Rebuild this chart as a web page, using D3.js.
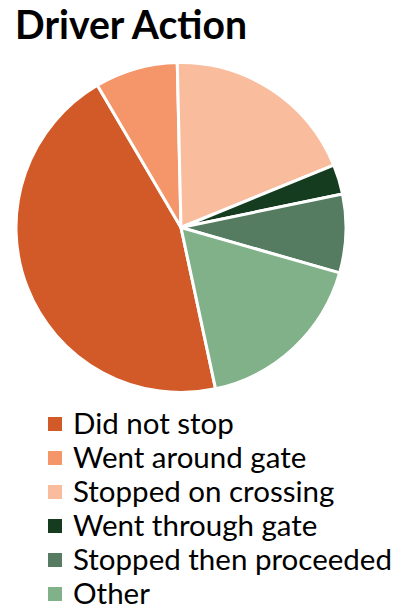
<!DOCTYPE html>
<html>
<head>
<meta charset="utf-8">
<script src="https://cdn.jsdelivr.net/npm/d3@7"></script>
<style>
  body { margin: 0; background: #fff; }
  text { font-family: "Lato", "Open Sans", sans-serif; }
</style>
</head>
<body>
<svg id="chart" width="399" height="609"></svg>
<script>
// Data (percent of cases)
const categories = ["Did not stop", "Went around gate", "Stopped on crossing", "Went through gate", "Stopped then proceeded", "Other"];
const values = [44.9, 8.1, 19.2, 2.9, 7.7, 17.2];
const colors = ["#D15A28", "#F4956A", "#F9BD9E", "#163C1F", "#557C60", "#80B188"];

const svg = d3.select("#chart");
const cx = 181, cy = 227.5, radius = 165;

// Title
const title = svg.append("text")
  .attr("x", 15)
  .attr("y", 39)
  .style("font-size", "36px")
  .style("font-weight", "bold")
  .attr("fill", "#000")
  .text("Driver Action");
const tw = title.node().getComputedTextLength();
title.style("font-size", (36 * 232 / tw) + "px");

// Pie, first slice starts at ~168 degrees, clockwise
const startA = 167.9 * Math.PI / 180;
const pie = d3.pie().sort(null).startAngle(startA).endAngle(startA + 2 * Math.PI);
const arc = d3.arc().innerRadius(0).outerRadius(radius);
const color = d3.scaleOrdinal().domain(categories).range(colors);

svg.append("g")
  .attr("transform", `translate(${cx},${cy})`)
  .selectAll("path")
  .data(pie(values))
  .join("path")
  .attr("d", arc)
  .attr("fill", (d, i) => color(categories[i]))
  .attr("stroke", "#fff")
  .attr("stroke-width", 3)
  .attr("stroke-linejoin", "round");

// Legend
const legendY = d3.scalePoint().domain(categories).range([424, 594]);
const legend = svg.append("g").selectAll("g")
  .data(categories)
  .join("g")
  .attr("transform", d => `translate(48,${legendY(d)})`);

legend.append("rect")
  .attr("x", 0)
  .attr("y", -7)
  .attr("width", 14)
  .attr("height", 14)
  .attr("fill", d => color(d));

const labels = legend.append("text")
  .attr("x", 25)
  .attr("dy", "0.35em")
  .style("font-size", "26px")
  .attr("fill", "#000")
  .text(d => d);

// fit the longest label to the width seen in the picture
const lw = labels.filter(d => d === "Stopped then proceeded").node().getComputedTextLength();
labels.style("font-size", (26 * 319 / lw) + "px");
</script>
</body>
</html>
